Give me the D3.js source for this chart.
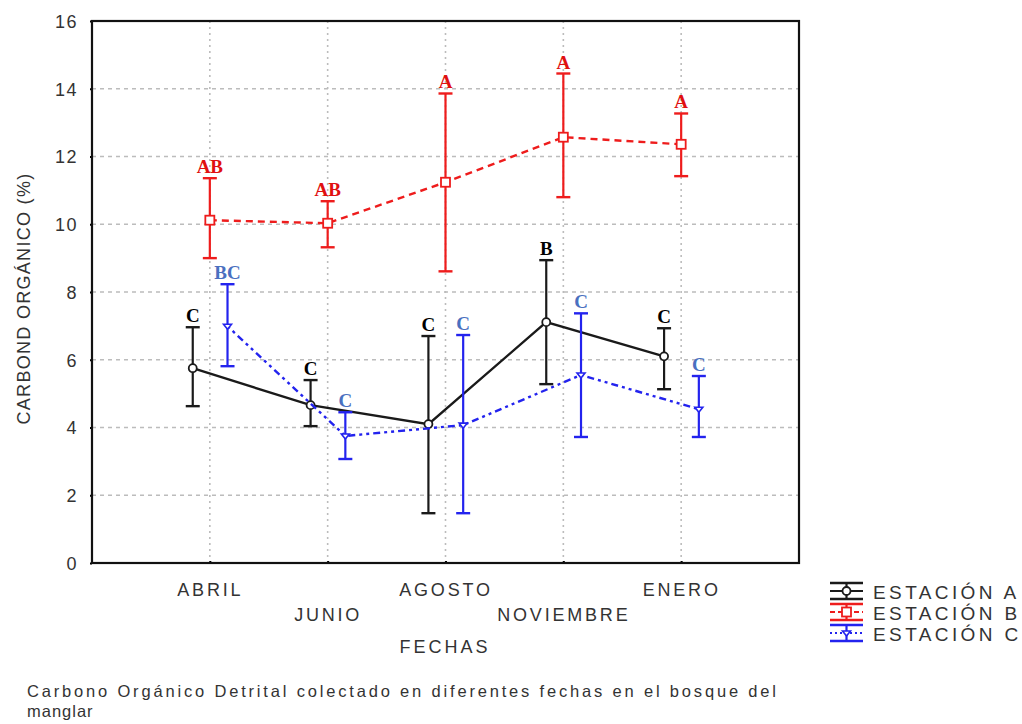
<!DOCTYPE html>
<html>
<head>
<meta charset="utf-8">
<script src="https://cdn.jsdelivr.net/npm/d3@7"></script>
<style>
  html, body { margin: 0; padding: 0; background: #fff; }
  svg { display: block; }
  .tick-text { font-family: Arial, "Liberation Sans", sans-serif; fill: #333; }
  .letter { font-family: "Liberation Serif", "Times New Roman", serif; font-weight: bold; }
</style>
</head>
<body>
<svg id="chart" width="1022" height="724"></svg>
<script>
// Sampling dates (x categories)
const fechas = ["ABRIL", "JUNIO", "AGOSTO", "NOVIEMBRE", "ENERO"];
const yTicks = [0, 2, 4, 6, 8, 10, 12, 14, 16];
const estaciones = ["ESTACIÓN A", "ESTACIÓN B", "ESTACIÓN C"];

// Mean organic carbon (%) and interval limits per station
const mediaA = [5.75, 4.66, 4.10, 7.11, 6.10];
const altoA  = [6.96, 5.40, 6.70, 8.94, 6.93];
const bajoA  = [4.63, 4.04, 1.47, 5.28, 5.13];
const letrasA = ["C", "C", "C", "B", "C"];

const mediaB = [10.12, 10.03, 11.24, 12.57, 12.36];
const altoB  = [11.36, 10.68, 13.86, 14.45, 13.27];
const bajoB  = [9.00, 9.32, 8.61, 10.80, 11.42];
const letrasB = ["AB", "AB", "A", "A", "A"];

const mediaC = [6.99, 3.75, 4.07, 5.55, 4.54];
const altoC  = [8.23, 4.45, 6.73, 7.37, 5.52];
const bajoC  = [5.81, 3.07, 1.47, 3.72, 3.72];
const letrasC = ["BC", "C", "C", "C", "C"];

const svg = d3.select("#chart");
const L = 92, R = 799, T = 21, B = 563;

// Categories sit at positions 1..5 on a 0..6 axis
const x = d3.scaleLinear().domain([0, fechas.length + 1]).range([L, R]);
const y = d3.scaleLinear().domain([0, 16]).range([B, T]);

// Grid
const grid = svg.append("g");
grid.selectAll("line.h").data(yTicks.slice(1, -1)).join("line")
  .attr("x1", L).attr("x2", R)
  .attr("y1", d => y(d)).attr("y2", d => y(d))
  .attr("stroke", "#bcbcbc").attr("stroke-width", 1.6)
  .attr("stroke-dasharray", "4,4");
grid.selectAll("line.v").data(fechas).join("line")
  .attr("x1", (d, i) => x(i + 1)).attr("x2", (d, i) => x(i + 1))
  .attr("y1", T).attr("y2", B)
  .attr("stroke", "#bcbcbc").attr("stroke-width", 1.6)
  .attr("stroke-dasharray", "2,4");

// Y axis
const yAxis = d3.axisLeft(y).tickValues(yTicks).tickSize(2).tickPadding(12);
const gy = svg.append("g").attr("transform", `translate(${L},0)`).call(yAxis);
gy.select(".domain").remove();
gy.selectAll(".tick line").attr("stroke", "#000").attr("stroke-width", 2);
gy.selectAll(".tick text").attr("class", "tick-text")
  .attr("font-size", 18).attr("letter-spacing", 1.5).attr("dy", "0.36em");

// X axis with staggered labels
const xAxis = d3.axisBottom(x).tickValues(d3.range(1, fechas.length + 1))
  .tickSize(2).tickFormat((d) => fechas[d - 1]);
const gx = svg.append("g").attr("transform", `translate(0,${B})`).call(xAxis);
gx.select(".domain").remove();
gx.selectAll(".tick line").attr("stroke", "#000").attr("stroke-width", 2).attr("transform", "translate(0,-2)");
gx.selectAll(".tick text").attr("class", "tick-text")
  .attr("font-size", 18).attr("letter-spacing", 2.8)
  .attr("dy", null)
  .attr("y", (d, i) => i % 2 === 0 ? 33 : 58);

// Frame
svg.append("rect").attr("x", L).attr("y", T).attr("width", R - L).attr("height", B - T)
  .attr("fill", "none").attr("stroke", "#111").attr("stroke-width", 2.2);

// Axis titles
svg.append("text").attr("class", "tick-text")
  .attr("transform", `translate(30,${(145 + 452) / 2}) rotate(-90)`)
  .attr("text-anchor", "middle").attr("font-size", 18).attr("letter-spacing", 1.3)
  .text("CARBOND ORGÁNICO (%)");
svg.append("text").attr("class", "tick-text")
  .attr("x", 445).attr("y", 653).attr("text-anchor", "middle")
  .attr("font-size", 18).attr("letter-spacing", 3)
  .text("FECHAS");

// Series
const series = [
  { media: mediaA, alto: altoA, bajo: bajoA, letras: letrasA, off: -0.145,
    color: "#1a1a1a", labelColor: "#000", dash: null, marker: "circle" },
  { media: mediaB, alto: altoB, bajo: bajoB, letras: letrasB, off: 0,
    color: "#ee1c1c", labelColor: "#e01010", dash: "7,5", marker: "square" },
  { media: mediaC, alto: altoC, bajo: bajoC, letras: letrasC, off: 0.15,
    color: "#2323ee", labelColor: "#4a70c0", dash: "3,4,3,4,7,4", marker: "diamond" }
];

const line = d3.line().x(d => d[0]).y(d => d[1]);
const capW = 7;

function drawMarker(g, kind, cx, cy, color) {
  if (kind === "circle") {
    g.append("circle").attr("cx", cx).attr("cy", cy).attr("r", 4)
      .attr("fill", "#fff").attr("stroke", color).attr("stroke-width", 1.8);
  } else if (kind === "square") {
    g.append("rect").attr("x", cx - 4.5).attr("y", cy - 4.5).attr("width", 9).attr("height", 9)
      .attr("fill", "#fff").attr("stroke", color).attr("stroke-width", 1.8);
  } else {
    g.append("path").attr("d", `M${cx - 4},${cy - 2}L${cx + 4},${cy - 2}L${cx},${cy + 3}Z`)
      .attr("fill", "#fff").attr("stroke", color).attr("stroke-width", 1.6);
  }
}

series.forEach(s => {
  const g = svg.append("g");
  const pts = s.media.map((v, i) => [x(i + 1 + s.off), y(v)]);
  g.append("path").attr("d", line(pts)).attr("fill", "none")
    .attr("stroke", s.color).attr("stroke-width", 2.4)
    .attr("stroke-dasharray", s.dash);

  // Error bars with significance letters above
  s.media.forEach((v, i) => {
    const cx = x(i + 1 + s.off);
    g.append("line").attr("x1", cx).attr("x2", cx)
      .attr("y1", y(s.alto[i])).attr("y2", y(s.bajo[i]))
      .attr("stroke", s.color).attr("stroke-width", 2.2);
    [s.alto[i], s.bajo[i]].forEach(e => {
      g.append("line").attr("x1", cx - capW).attr("x2", cx + capW)
        .attr("y1", y(e)).attr("y2", y(e))
        .attr("stroke", s.color).attr("stroke-width", 2.4);
    });
    g.append("text").attr("class", "letter")
      .attr("x", cx).attr("y", y(s.alto[i]) - 5)
      .attr("text-anchor", "middle").attr("font-size", 19)
      .attr("fill", s.labelColor).text(s.letras[i]);
  });

  pts.forEach(p => drawMarker(g, s.marker, p[0], p[1], s.color));
});

// Legend
const legend = svg.append("g");
const rowY = [591, 612, 633];
series.forEach((s, i) => {
  const cy = rowY[i];
  const g = legend.append("g");
  const x0 = 830, x1 = 863, xm = 846.5;
  [cy - 8, cy + 8].forEach(yy => g.append("line").attr("x1", x0).attr("x2", x1)
    .attr("y1", yy).attr("y2", yy).attr("stroke", s.color).attr("stroke-width", 2.4));
  g.append("line").attr("x1", xm).attr("x2", xm).attr("y1", cy - 8).attr("y2", cy + 8)
    .attr("stroke", s.color).attr("stroke-width", 2.2);
  g.append("line").attr("x1", x0).attr("x2", x1).attr("y1", cy).attr("y2", cy)
    .attr("stroke", s.color).attr("stroke-width", 2.2)
    .attr("stroke-dasharray", s.dash ? (i === 1 ? "5,3" : "2,3") : null);
  drawMarker(g, s.marker, xm, cy, s.color);
  g.append("text").attr("class", "tick-text")
    .attr("x", 873).attr("y", cy + 8)
    .attr("font-size", 19).attr("letter-spacing", 3.4)
    .text(estaciones[i]);
});

// Caption
svg.append("text").attr("class", "tick-text")
  .attr("x", 27).attr("y", 697).attr("font-size", 16.5)
  .attr("textLength", 749).attr("lengthAdjust", "spacing")
  .text("Carbono Orgánico Detrital colectado en diferentes fechas en el bosque del");
svg.append("text").attr("class", "tick-text")
  .attr("x", 27).attr("y", 717).attr("font-size", 16.5).attr("letter-spacing", 1)
  .text("manglar");
</script>
</body>
</html>
